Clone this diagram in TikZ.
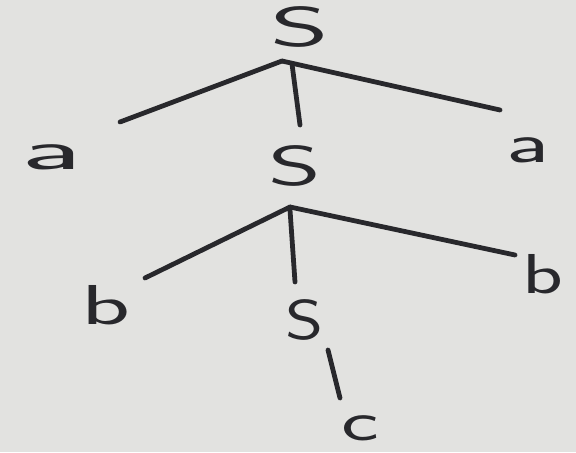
\documentclass[tikz,border=0pt]{standalone}
\usepackage{tikz}
\usetikzlibrary{calc}
\definecolor{paper}{RGB}{226,226,224}
\definecolor{ink}{RGB}{40,40,44}
\newcommand{\hand}[2]{\scalebox{#1}[1]{#2}}

\begin{document}
\begin{tikzpicture}[x=0.025cm, y=-0.025cm,
  sym/.style={text=ink, inner sep=0pt, font=\sffamily\fontsize{40}{44}\selectfont},
  branch/.style={draw=ink, line width=3.4pt, line cap=round}]
  % sheet
  \fill[paper] (0,0) rectangle (576,452);
  \useasboundingbox (0,0) rectangle (576,452);

  % symbols
  \node[sym] (s1) at (300,27)  {\hand{2.0}{S}};
  \node[sym] (a1) at (52,157)  {\hand{2.4}{a}};
  \node[sym] (s2) at (295,166) {\hand{1.8}{S}};
  \node[sym] (a2) at (528,150) {\hand{1.7}{a}};
  \node[sym] (b1) at (106,305) {\hand{1.8}{b}};
  \node[sym] (s3) at (305,320) {\hand{1.3}{S}};
  \node[sym] (b2) at (543,274) {\hand{1.5}{b}};
  \node[sym] (c)  at (360,428) {\hand{1.6}{c}};

  % branch points
  \coordinate (j1) at (282,61);
  \coordinate (j2) at (290,207);
  \coordinate (j3) at (328,350);
  \coordinate (t1) at (120,122);
  \coordinate (t2) at (300,125);
  \coordinate (t3) at (500,110);
  \coordinate (t4) at (145,278);
  \coordinate (t5) at (295,282);
  \coordinate (t6) at (515,255);
  \coordinate (t7) at (340,398);

  % branches
  \draw[branch] (j1) -- (t1);
  \draw[branch] (j1) ++(10,3) -- (t2);
  \draw[branch] (j1) -- (t3);
  \draw[branch] (j2) -- (t4);
  \draw[branch] (j2) ++(0,3) -- (t5);
  \draw[branch] (j2) -- (t6);
  \draw[branch] (j3) -- (t7);
\end{tikzpicture}
\end{document}
